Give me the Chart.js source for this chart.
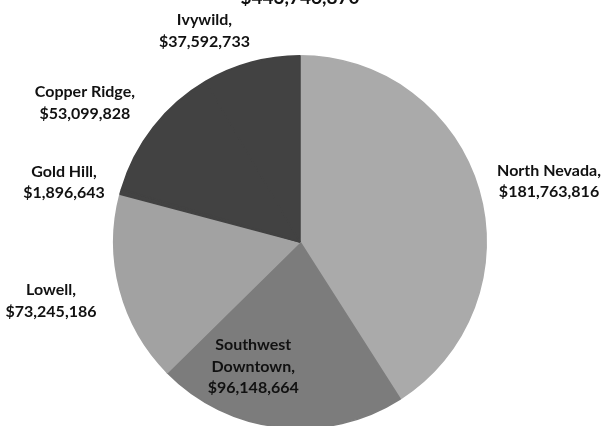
<!DOCTYPE html>
<html>
<head>
<meta charset="utf-8">
<script src="https://cdn.jsdelivr.net/npm/chart.js@4/dist/chart.umd.min.js"></script>
<style>
  html, body { margin: 0; padding: 0; background: #fff; overflow: hidden; }
  #wrap { position: absolute; left: 0; top: 0; width: 608px; height: 430px; }
</style>
</head>
<body>
<div id="wrap"><canvas id="c"></canvas></div>
<script>
// ---- data ----
const categories = ["North Nevada", "Southwest Downtown", "Lowell", "Gold Hill", "Copper Ridge", "Ivywild"];
const amounts = [181763816, 96148664, 73245186, 1896643, 53099828, 37592733];
const totalLabel = "$443,746,870";

// ---- styles ----
const sliceColors = ["#aaaaaa", "#7c7c7c", "#a2a2a2", "#424242", "#424242", "#424242"];
// label anchors relative to the pie centre, in units of the radius
const labelOffsets = [
  [1.337, -0.326],
  [-0.251, 0.668],
  [-1.337, 0.316],
  [-1.267, -0.321],
  [-1.155, -0.746],
  [-0.513, -1.134]
];
const labelLines = categories.map((c, i) => {
  const money = "$" + amounts[i].toLocaleString("en-US");
  if (c === "Southwest Downtown") return ["Southwest", "Downtown,", money];
  return [c + ",", money];
});

const labelPlugin = {
  id: "labels",
  afterDatasetsDraw(chart) {
    const ctx = chart.ctx;
    const arc = chart.getDatasetMeta(0).data[0];
    const cx = arc.x, cy = arc.y, r = arc.outerRadius;
    ctx.save();
    ctx.font = "bold 16px Lato, 'Open Sans', sans-serif";
    ctx.textAlign = "center";
    ctx.textBaseline = "middle";
    ctx.fillStyle = "#111111";
    const lh = 21.5;
    labelLines.forEach((lines, i) => {
      const x = cx + labelOffsets[i][0] * r;
      const y = cy + labelOffsets[i][1] * r;
      const y0 = y - (lines.length - 1) * lh / 2;
      lines.forEach((t, k) => ctx.fillText(t, x, y0 + k * lh));
    });
    // total, mostly cut off at the top edge
    ctx.font = "bold 19px Lato, 'Open Sans', sans-serif";
    ctx.textBaseline = "alphabetic";
    ctx.fillText(totalLabel, cx, 4);
    ctx.restore();
  }
};

new Chart(document.getElementById("c"), {
  type: "pie",
  data: {
    labels: categories,
    datasets: [{
      data: amounts,
      backgroundColor: sliceColors,
      borderColor: sliceColors,
      borderWidth: 1.5
    }]
  },
  options: {
    responsive: true,
    maintainAspectRatio: false,
    animation: false,
    layout: { padding: { top: 55, bottom: 1, left: 0, right: 8 } },
    plugins: {
      legend: { display: false },
      tooltip: { enabled: false },
      title: { display: false }
    }
  },
  plugins: [labelPlugin]
});
</script>
</body>
</html>
